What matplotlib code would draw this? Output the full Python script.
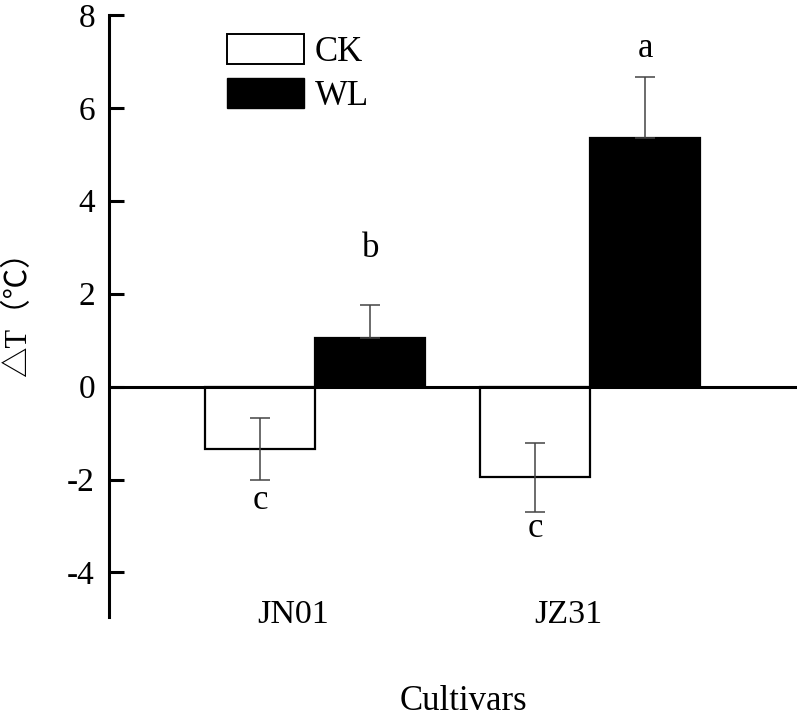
import matplotlib
matplotlib.use("Agg")
from matplotlib import pyplot as plt
from matplotlib.patches import Patch
import numpy as np

cultivars = ["JN01", "JZ31"]
ck_mean = [-1.35, -1.95]
ck_err = [0.67, 0.74]
wl_mean = [1.04, 5.34]
wl_err = [0.71, 1.33]
ck_letters = ["c", "c"]
wl_letters = ["b", "a"]
ck_letter_y = [-2.45, -3.05]
wl_letter_y = [2.97, 7.28]

plt.rcParams['font.family'] = ['Liberation Serif', 'Noto Sans CJK SC']
plt.rcParams['axes.unicode_minus'] = False

fig = plt.figure(figsize=(8, 7.17), dpi=100)
ax = fig.add_axes([0.136, 0.140, 0.860, 0.8393])

x = np.arange(1, len(cultivars) + 1)
w = 0.4
err_kw = dict(ecolor='#444444', elinewidth=1.1, capsize=7, capthick=1.1)
ax.bar(x - w / 2, ck_mean, w, yerr=ck_err, color='white', edgecolor='black',
       linewidth=1.6, error_kw=err_kw, label='CK', zorder=2)
ax.bar(x + w / 2, wl_mean, w, yerr=[np.zeros(len(wl_err)), wl_err], color='black',
       edgecolor='black', linewidth=1.6, error_kw=err_kw, label='WL', zorder=2)

for i in range(len(cultivars)):
    ax.text(x[i] - w / 2, ck_letter_y[i], ck_letters[i], ha='center', va='center', fontsize=25)
    ax.text(x[i] + w / 2, wl_letter_y[i], wl_letters[i], ha='center', va='center', fontsize=25)
    ax.text(x[i] - 0.08, -4.9, cultivars[i], ha='center', va='center', fontsize=24.5)

ax.axhline(0, color='black', linewidth=2.2, zorder=3)

ax.set_xlim(0.25, 2.75)
ax.set_ylim(-4.95, 8)
ax.set_yticks([-4, -2, 0, 2, 4, 6, 8])
ax.set_xticks([])
ax.tick_params(axis='y', direction='in', length=11, width=2.2, labelsize=24, pad=10)
for s in ['top', 'right', 'bottom']:
    ax.spines[s].set_visible(False)
ax.spines['left'].set_linewidth(2.2)

ax.set_ylabel('△T（℃）', fontsize=22, va='center')
ax.yaxis.set_label_coords(-0.131, 0.515)
fig.text(0.579, 1 - 701.7 / 717, 'Cultivars', ha='center', va='center', fontsize=25)

handles = [Patch(facecolor='white', edgecolor='black', linewidth=1.4),
           Patch(facecolor='black', edgecolor='black')]
ax.legend(handles, ['CK', 'WL'], loc='upper left', bbox_to_anchor=(0.1715, 0.968),
          frameon=False, fontsize=25, handlelength=2.22, handleheight=0.97,
          handletextpad=0.32, labelspacing=0.25, borderpad=0, borderaxespad=0)

fig.savefig("out.png", dpi=100)
